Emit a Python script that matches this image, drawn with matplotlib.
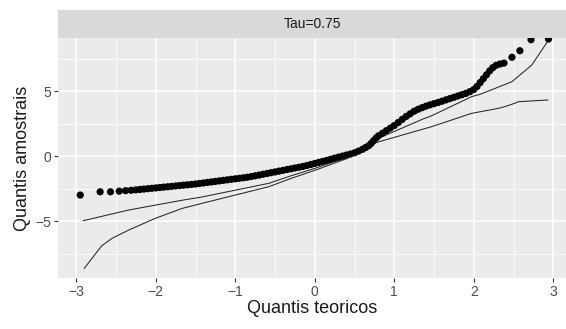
import matplotlib
matplotlib.use("Agg")
import matplotlib.pyplot as plt

# sample points (theoretical quantile, sample quantile)
qx = [-2.95, -2.70, -2.57, -2.46, -2.38, -2.31, -2.25, -2.20, -2.15, -2.10,
      -2.05, -2.00, -1.95, -1.90, -1.85, -1.80, -1.75, -1.70, -1.65, -1.60,
      -1.55, -1.50, -1.45, -1.40, -1.35, -1.30, -1.25, -1.20, -1.15, -1.10,
      -1.05, -1.00, -0.95, -0.90, -0.85, -0.80, -0.75, -0.70, -0.65, -0.60,
      -0.55, -0.50, -0.45, -0.40, -0.35, -0.30, -0.25, -0.20, -0.15, -0.10,
      -0.05, 0.00, 0.05, 0.10, 0.15, 0.20, 0.25, 0.30, 0.35, 0.40,
      0.45, 0.50, 0.55, 0.60, 0.64, 0.68, 0.71, 0.74, 0.77, 0.80,
      0.85, 0.90, 0.95, 1.00, 1.05, 1.10, 1.15, 1.20, 1.25, 1.30,
      1.35, 1.40, 1.45, 1.50, 1.55, 1.60, 1.65, 1.70, 1.75, 1.80,
      1.85, 1.90, 1.95, 2.00, 2.04, 2.08, 2.12, 2.16, 2.20, 2.24,
      2.28, 2.33, 2.38, 2.48, 2.58, 2.72, 2.94]
qy = [-3.00, -2.75, -2.75, -2.70, -2.66, -2.63, -2.60, -2.57, -2.54, -2.51,
      -2.48, -2.45, -2.42, -2.39, -2.36, -2.33, -2.30, -2.27, -2.24, -2.21,
      -2.18, -2.15, -2.11, -2.07, -2.03, -1.99, -1.95, -1.91, -1.87, -1.83,
      -1.79, -1.75, -1.71, -1.67, -1.63, -1.58, -1.52, -1.46, -1.40, -1.34,
      -1.28, -1.22, -1.16, -1.10, -1.04, -0.98, -0.92, -0.86, -0.80, -0.73,
      -0.65, -0.57, -0.49, -0.41, -0.33, -0.25, -0.16, -0.08, 0.00, 0.08,
      0.16, 0.25, 0.38, 0.52, 0.66, 0.80, 0.98, 1.18, 1.38, 1.55,
      1.75, 1.95, 2.15, 2.35, 2.58, 2.82, 3.05, 3.25, 3.45, 3.60,
      3.72, 3.84, 3.94, 4.03, 4.12, 4.22, 4.32, 4.42, 4.52, 4.62,
      4.72, 4.82, 4.95, 5.12, 5.35, 5.65, 5.95, 6.25, 6.55, 6.80,
      6.98, 7.08, 7.15, 7.60, 8.10, 8.95, 9.00]

# envelope lines
low_x = [-2.90, -2.68, -2.55, -2.34, -2.01, -1.67, -1.42, -0.58, -0.29, 0.00,
         0.40, 0.75, 1.35, 1.47, 1.97, 2.31, 2.39, 2.52, 2.56, 2.93]
low_y = [-8.64, -6.90, -6.33, -5.69, -4.80, -4.03, -3.64, -2.36, -1.70, -1.10,
         -0.20, 1.00, 2.05, 2.26, 3.28, 3.67, 3.80, 4.07, 4.18, 4.31]
up_x = [-2.91, -2.34, -1.67, -1.42, -0.58, -0.29, 0.00, 0.40, 0.75, 1.35,
        1.47, 1.97, 2.08, 2.48, 2.73, 2.94]
up_y = [-4.97, -4.15, -3.40, -3.15, -2.10, -1.50, -0.95, -0.10, 1.23, 2.82,
        3.10, 4.56, 4.75, 5.72, 7.00, 8.92]

strip_label = "Tau=0.75"

W, H = 566, 329
fig = plt.figure(figsize=(W / 100, H / 100), dpi=100)
plt.rcParams['font.family'] = ['Liberation Sans', 'DejaVu Sans']

left, right = 58 / W, 566 / W
bot, top = 1 - 278 / H, 1 - 38 / H
ax = fig.add_axes([left, bot, right - left, top - bot])
ax.set_facecolor('#EBEBEB')

ax.plot(low_x, low_y, color='#262626', lw=0.75, zorder=3)
ax.plot(up_x, up_y, color='#262626', lw=0.75, zorder=3)
ax.scatter(qx, qy, s=27, color='black', edgecolors='none', zorder=4)

ax.set_xlim(-3.23, 3.16)
ax.set_ylim(-9.38, 9.08)
ax.set_xticks([-3, -2, -1, 0, 1, 2, 3])
ax.set_yticks([-5, 0, 5])
ax.set_xticks([-2.5, -1.5, -0.5, 0.5, 1.5, 2.5], minor=True)
ax.set_yticks([-7.5, -2.5, 2.5, 7.5], minor=True)
ax.grid(which='major', color='white', lw=1.1)
ax.grid(which='minor', color='white', lw=0.55)
ax.set_axisbelow(True)
for s in ax.spines.values():
    s.set_visible(False)
ax.tick_params(which='major', length=3, width=0.8, color='#333333',
               labelcolor='#4D4D4D', labelsize=10, pad=2)
ax.tick_params(which='minor', length=0)

ax.set_xlabel('Quantis teoricos', fontsize=13, color='#1a1a1a', labelpad=1)
ax.set_ylabel('Quantis amostrais', fontsize=13, color='#1a1a1a', labelpad=3)

# facet strip
sax = fig.add_axes([left, top, right - left, 28 / H])
sax.set_facecolor('#D9D9D9')
sax.set_xticks([])
sax.set_yticks([])
for s in sax.spines.values():
    s.set_visible(False)
sax.text(0.5, 0.5, strip_label, ha='center', va='center', fontsize=10,
         color='#1a1a1a', transform=sax.transAxes)

fig.savefig('out.png', dpi=100)
